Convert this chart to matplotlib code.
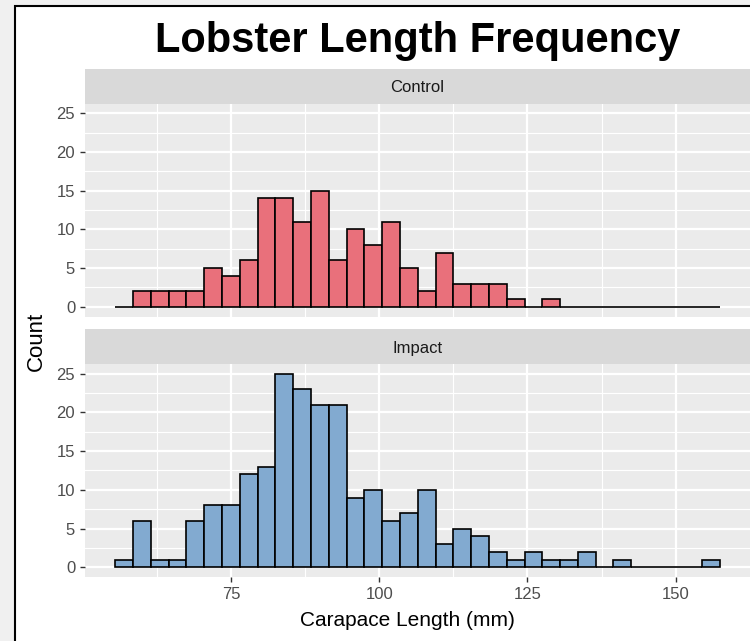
import numpy as np
import matplotlib
matplotlib.use("Agg")
import matplotlib.pyplot as plt
from matplotlib.patches import Rectangle

plt.rcParams['font.family'] = ['Liberation Sans', 'DejaVu Sans']

# ---- data ----
bin_centers = np.arange(57, 158, 3)  # 34 bins of width 3 mm
bin_width = 3
control_counts = [0, 2, 2, 2, 2, 5, 4, 6, 14, 14, 11, 15, 6, 10, 8, 11, 5,
                  2, 7, 3, 3, 3, 1, 0, 1, 0, 0, 0, 0, 0, 0, 0, 0, 0]
impact_counts = [1, 6, 1, 1, 6, 8, 8, 12, 13, 25, 23, 21, 21, 9, 10, 6, 7,
                 10, 3, 5, 4, 2, 1, 2, 1, 1, 2, 0, 1, 0, 0, 0, 0, 1]
facets = ["Control", "Impact"]
x_ticks = [75, 100, 125, 150]
x_minor = [62.5, 87.5, 112.5, 137.5]
y_ticks = [0, 5, 10, 15, 20, 25]
y_minor = [2.5, 7.5, 12.5, 17.5, 22.5]
colors = {"Control": "#E9707B", "Impact": "#82AAD0"}
title = "Lobster Length Frequency"
xlabel = "Carapace Length (mm)"
ylabel = "Count"

W, H = 750, 641
fig = plt.figure(figsize=(W / 100, H / 100), dpi=100)
fig.patch.set_facecolor("#f0f0f0")
fig.patches.append(Rectangle((15 / W, -0.1), 1.1, (H - 6) / H + 0.1,
                             transform=fig.transFigure, facecolor="white",
                             edgecolor="black", linewidth=1.5, zorder=-10))


def box(x0, y0, x1, y1):
    return [x0 / W, 1 - y1 / H, (x1 - x0) / W, (y1 - y0) / H]


panel_boxes = {"Control": (103.5, 316.5), "Impact": (364.0, 577.0)}
strip_boxes = {"Control": (69.0, 103.5), "Impact": (329.0, 364.0)}
xl, xr = 85, 750.5
data = {"Control": control_counts, "Impact": impact_counts}

for name in facets:
    y0, y1 = panel_boxes[name]
    ax = fig.add_axes(box(xl, y0, xr, y1))
    ax.set_facecolor("#EBEBEB")
    for s in ax.spines.values():
        s.set_visible(False)
    ax.bar(bin_centers, data[name], width=bin_width, color=colors[name],
           edgecolor="black", linewidth=1.2, zorder=3)
    ax.set_xlim(50.4, 162.6)
    ax.set_ylim(-1.25, 26.25)
    ax.set_xticks(x_ticks)
    ax.set_xticks(x_minor, minor=True)
    ax.set_yticks(y_ticks)
    ax.set_yticks(y_minor, minor=True)
    ax.grid(which="major", color="white", linewidth=1.6, zorder=1)
    ax.grid(which="minor", color="white", linewidth=0.8, zorder=1)
    ax.set_axisbelow(True)
    ax.tick_params(which="major", length=3.6, width=1.0, color="#333333",
                   labelcolor="#4d4d4d", labelsize=12, pad=3.5)
    ax.tick_params(which="minor", length=0)
    if name == "Control":
        ax.tick_params(axis="x", which="both", length=0, labelbottom=False)

    s0, s1 = strip_boxes[name]
    sax = fig.add_axes(box(xl, s0, xr, s1))
    sax.set_facecolor("#D9D9D9")
    for s in sax.spines.values():
        s.set_visible(False)
    sax.set_xticks([])
    sax.set_yticks([])
    sax.text((417.5 - xl) / (xr - xl), 0.45, name, transform=sax.transAxes,
             ha="center", va="center", fontsize=12, color="#1a1a1a")

fig.text(417.5 / W, 1 - 52 / H, title, ha="center", va="baseline",
         fontsize=30, fontweight="bold", color="black")
fig.text(407 / W, 1 - 620 / H, xlabel, ha="center", va="center",
         fontsize=15, color="black")
fig.text(36 / W, 1 - 341 / H, ylabel, ha="center", va="center",
         rotation=90, fontsize=16, color="black")

fig.savefig("out.png", dpi=100, facecolor=fig.get_facecolor())
